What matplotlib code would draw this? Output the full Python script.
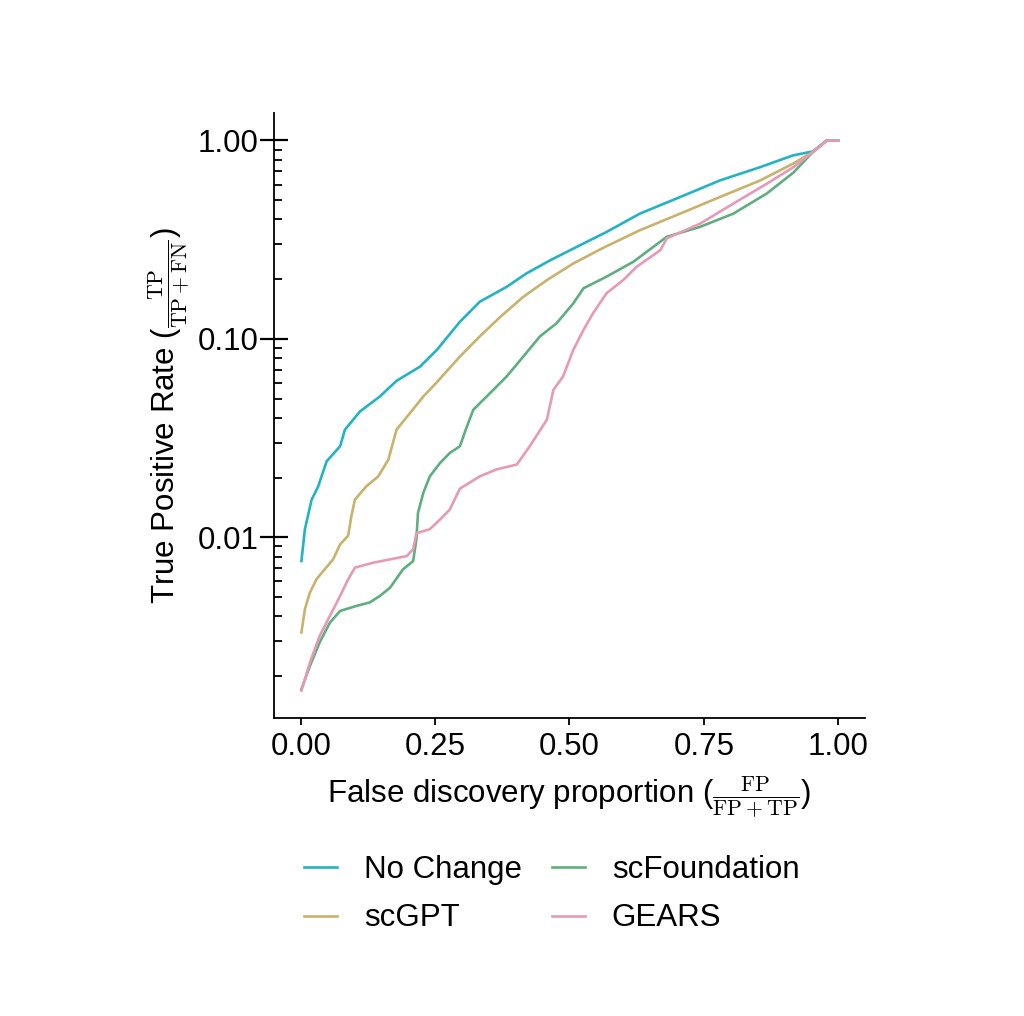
import matplotlib
matplotlib.use("Agg")
import matplotlib.pyplot as plt
from matplotlib.ticker import LogLocator, FixedLocator, NullFormatter

plt.rcParams["font.family"] = ["Liberation Sans", "DejaVu Sans"]
plt.rcParams["mathtext.fontset"] = "cm"

# FDP (x) vs TPR (y)
nochange_x = [0.001, 0.0075, 0.020, 0.032, 0.048, 0.073, 0.082, 0.110, 0.147, 0.178, 0.222,
              0.253, 0.296, 0.333, 0.383, 0.420, 0.464, 0.520, 0.569, 0.631, 0.706, 0.780,
              0.855, 0.916, 0.953, 0.979, 1.0]
nochange_y = [0.0076, 0.011, 0.0155, 0.018, 0.0242, 0.0288, 0.0349, 0.0431, 0.0513, 0.0615,
              0.0726, 0.088, 0.122, 0.154, 0.183, 0.214, 0.249, 0.297, 0.346, 0.428, 0.519,
              0.629, 0.734, 0.841, 0.881, 1.0, 1.0]

scgpt_x = [0.001, 0.0075, 0.0168, 0.029, 0.0416, 0.060, 0.073, 0.088, 0.094, 0.1006, 0.122,
           0.144, 0.163, 0.178, 0.203, 0.228, 0.253, 0.296, 0.333, 0.371, 0.414, 0.458,
           0.507, 0.563, 0.631, 0.706, 0.780, 0.855, 0.916, 0.953, 0.979, 1.0]
scgpt_y = [0.00332, 0.00435, 0.00527, 0.00615, 0.00677, 0.00775, 0.00922, 0.0102, 0.0128,
           0.0155, 0.0181, 0.0203, 0.0247, 0.0349, 0.0423, 0.0513, 0.0605, 0.0815, 0.103,
           0.129, 0.163, 0.198, 0.240, 0.288, 0.353, 0.428, 0.519, 0.629, 0.764, 0.875,
           1.0, 1.0]

scfound_x = [0.001, 0.0168, 0.035, 0.054, 0.073, 0.104, 0.128, 0.147, 0.166, 0.190, 0.209,
             0.215, 0.218, 0.228, 0.240, 0.259, 0.277, 0.296, 0.309, 0.321, 0.352, 0.383,
             0.414, 0.445, 0.476, 0.507, 0.526, 0.569, 0.619, 0.681, 0.743, 0.805, 0.867,
             0.917, 0.953, 0.979, 1.0]
scfound_y = [0.00172, 0.00225, 0.00296, 0.00372, 0.00426, 0.00452, 0.0047, 0.00507, 0.00558,
             0.0069, 0.0076, 0.00977, 0.0133, 0.0168, 0.0203, 0.0237, 0.0266, 0.0288, 0.0362,
             0.044, 0.0533, 0.0647, 0.0815, 0.103, 0.120, 0.151, 0.180, 0.206, 0.245, 0.327,
             0.367, 0.428, 0.540, 0.690, 0.875, 1.0, 1.0]

gears_x = [0.001, 0.0168, 0.035, 0.054, 0.073, 0.088, 0.1006, 0.135, 0.166, 0.197, 0.209,
           0.215, 0.240, 0.259, 0.277, 0.296, 0.333, 0.364, 0.402, 0.426, 0.458, 0.470,
           0.488, 0.507, 0.526, 0.544, 0.569, 0.600, 0.625, 0.669, 0.681, 0.743, 0.805,
           0.867, 0.917, 0.953, 0.979, 1.0]
gears_y = [0.00169, 0.00234, 0.00319, 0.00402, 0.00507, 0.00615, 0.00704, 0.00746, 0.00775,
           0.00805, 0.0087, 0.0105, 0.011, 0.0123, 0.0138, 0.0176, 0.0203, 0.022, 0.0233,
           0.0288, 0.0392, 0.0554, 0.0647, 0.088, 0.111, 0.135, 0.170, 0.198, 0.231, 0.280,
           0.321, 0.381, 0.481, 0.605, 0.734, 0.875, 1.0, 1.0]

series = [
    ("No Change", nochange_x, nochange_y, "#22b3c4"),
    ("scGPT", scgpt_x, scgpt_y, "#c8b26c"),
    ("scFoundation", scfound_x, scfound_y, "#5daf7f"),
    ("GEARS", gears_x, gears_y, "#e69ab6"),
]

FS = 22.5

fig = plt.figure(figsize=(10.24, 10.16), dpi=100)
ax = fig.add_axes([0.2676, 0.2933, 0.5771, 0.5955])

lines = {}
for name, xs, ys, col in series:
    ln, = ax.plot(xs, ys, color=col, lw=1.9, label=name)
    lines[name] = ln

ax.set_yscale("log")
ax.set_xlim(-0.05, 1.05)
ax.set_ylim(0.00123, 1.376)

ax.set_xticks([0, 0.25, 0.5, 0.75, 1.0])
ax.set_xticklabels(["0.00", "0.25", "0.50", "0.75", "1.00"])
ax.yaxis.set_major_locator(FixedLocator([0.01, 0.1, 1.0]))
ax.set_yticklabels(["0.01", "0.10", "1.00"])
ax.yaxis.set_minor_locator(LogLocator(base=10, subs=range(2, 10)))
ax.yaxis.set_minor_formatter(NullFormatter())

for s in ["top", "right"]:
    ax.spines[s].set_visible(False)
for s in ["left", "bottom"]:
    ax.spines[s].set_linewidth(1.3)

ax.tick_params(axis="x", which="major", direction="out", length=5, width=1.3,
               labelsize=FS, pad=5)
ax.tick_params(axis="y", which="major", direction="inout", length=20, width=1.6,
               labelsize=FS, pad=1)
ax.tick_params(axis="y", which="minor", direction="in", length=6, width=1.3)

ax.set_xlabel("False discovery proportion (" + r"$\frac{\mathrm{FP}}{\mathrm{FP+TP}}$" + ")",
              fontsize=FS, labelpad=9)
ax.set_ylabel("True Positive Rate (" + r"$\frac{\mathrm{TP}}{\mathrm{TP+FN}}$" + ")",
              fontsize=FS, labelpad=4)

handles = [lines["No Change"], lines["scGPT"], lines["scFoundation"], lines["GEARS"]]
fig.legend(handles=handles, labels=[h.get_label() for h in handles], ncol=2,
           loc="center", bbox_to_anchor=(0.539, 0.120), frameon=False, fontsize=FS,
           handlelength=1.05, handletextpad=0.86, columnspacing=0.96, labelspacing=0.6)

fig.savefig("out.png", dpi=100, facecolor="white")
